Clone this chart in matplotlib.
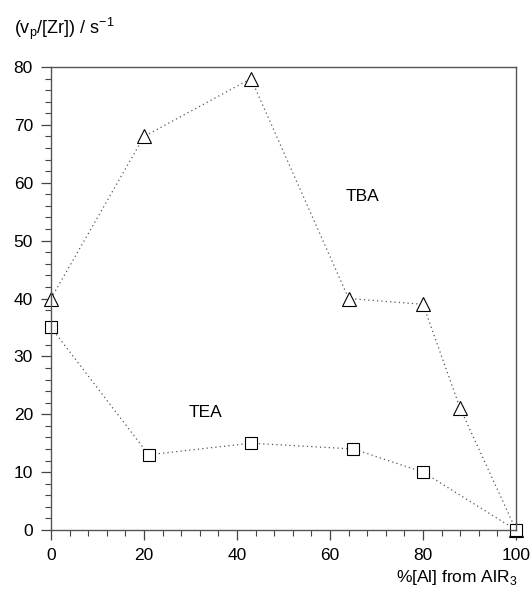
import matplotlib.pyplot as plt
from matplotlib.ticker import MultipleLocator

plt.rcParams['font.family'] = ['Liberation Sans', 'DejaVu Sans']

# TBA series (triangles)
tba_x = [0, 20, 43, 64, 80, 88, 100]
tba_y = [40, 68, 78, 40, 39, 21, 0]

# TEA series (squares)
tea_x = [0, 21, 43, 65, 80, 100]
tea_y = [35, 13, 15, 14, 10, 0]

fig = plt.figure(figsize=(5.32, 6.06), dpi=100)
ax = fig.add_axes([0.0959, 0.1254, 0.8741, 0.764])

ax.plot(tba_x, tba_y, linestyle=(0, (1, 2.5)), color='#555555', lw=0.9,
        marker='^', ms=10, mfc='white', mec='black', mew=0.8, clip_on=False)
ax.plot(tea_x, tea_y, linestyle=(0, (1, 2.5)), color='#555555', lw=0.9,
        marker='s', ms=9, mfc='white', mec='black', mew=0.8, clip_on=False)

ax.text(63.3, 57.7, 'TBA', fontsize=12.5, va='center', ha='left')
ax.text(29.5, 20.3, 'TEA', fontsize=12.5, va='center', ha='left')

ax.set_xlim(0, 100)
ax.set_ylim(0, 80)
ax.xaxis.set_major_locator(MultipleLocator(20))
ax.xaxis.set_minor_locator(MultipleLocator(4))
ax.yaxis.set_major_locator(MultipleLocator(10))
ax.yaxis.set_minor_locator(MultipleLocator(2))
ax.tick_params(which='major', length=7, width=0.9, color='#444444',
               labelsize=12.5, pad=6)
ax.tick_params(which='minor', length=4, width=0.8, color='#444444')

for s in ax.spines.values():
    s.set_color('#555555')
    s.set_linewidth(1.0)

fig.text(0.026, 0.953, r'(v$_\mathregular{p}$/[Zr]) / s$^\mathregular{-1}$',
         fontsize=13, ha='left', va='center')
fig.text(0.972, 0.047, r'%[Al] from AlR$_\mathregular{3}$',
         fontsize=12.5, ha='right', va='center')

fig.savefig('out.png', dpi=100)
